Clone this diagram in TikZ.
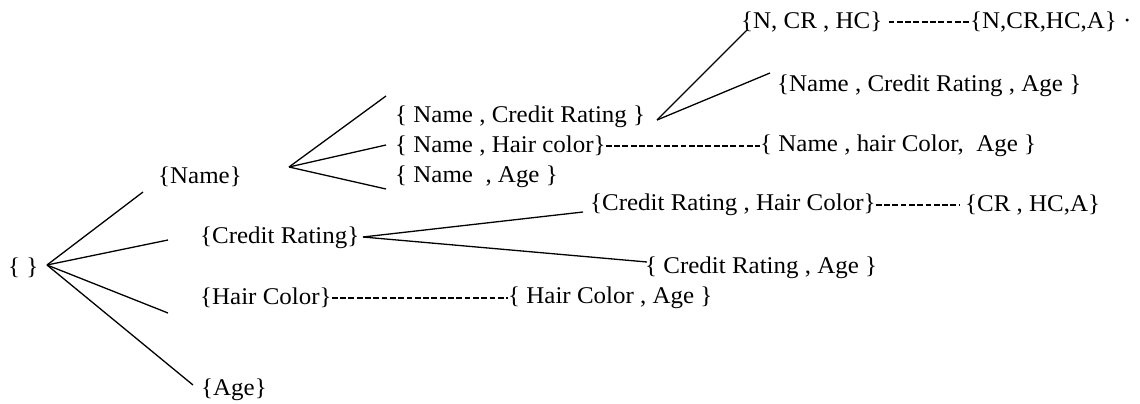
\documentclass[tikz,border=0pt]{standalone}
\usepackage{fontspec}
\setmainfont{Liberation Serif}[FakeStretch=1.04]
\usetikzlibrary{positioning,calc}

\begin{document}
\begin{tikzpicture}[x=1pt,y=-1pt,
    set/.style={inner sep=0pt, anchor=west, font=\fontsize{24}{28}\selectfont},
    edge/.style={line width=1.3pt},
    dashline/.style={line width=1.4pt, dash pattern=on 5.8pt off 2.5pt}
]
    \useasboundingbox (0,0) rectangle (1140,404);

    % level 0 and 1
    \node[set] (empty) at (8,268) {\{ \}};
    \node[set] (n) at (158,177) {\{Name\}};
    \node[set] (cr) at (200,238) {\{Credit Rating\}};
    \node[set] (hc) at (200,298) {\{Hair Color\}};
    \node[set] (a) at (201,390) {\{Age\}};

    % level 2
    \node[set] (ncr) at (395,117) {\{ Name , Credit Rating \}};
    \node[set] (nhc) at (395,146) {\{ Name , Hair color\}};
    \node[set] (na) at (395,177) {\{ Name ~, Age \}};
    \node[set] (crhc) at (590,205) {\{Credit Rating , Hair Color\}};
    \node[set] (cra) at (645,268) {\{ Credit Rating , Age \}};
    \node[set] (hca) at (508,298) {\{ Hair Color , Age \}};

    % level 3 and 4
    \node[set] (ncrhc) at (741,22) {\{N, CR , HC\}};
    \node[set] (all) at (970,22) {\{N,CR,HC,A\}~·};
    \node[set] (ncra) at (777,86) {\{Name , Credit Rating , Age \}};
    \node[set] (nhca) at (760,146) {\{ Name , hair Color, ~Age \}};
    \node[set] (crhca) at (965,205) {\{CR , HC,A\}};

    \coordinate (v0) at (47,265);
    \coordinate (v1) at (289,167);
    \coordinate (v2) at (657,120);
    \coordinate (v3) at (363,237);

    \draw[edge] (v0) -- ([shift={(-15,15)}]n.west);
    \draw[edge] (v0) -- ([shift={(-32,2)}]cr.west);
    \draw[edge] (v0) -- ([shift={(-32,15)}]hc.west);
    \draw[edge] (v0) -- ([shift={(-8,-5)}]a.west);
    \draw[edge] (v1) -- ([shift={(-9,-21)}]ncr.west);
    \draw[edge] (v1) -- ([shift={(-9,-1)}]nhc.west);
    \draw[edge] (v1) -- ([shift={(-9,12)}]na.west);
    \draw[edge] (v2) -- ([shift={(6,8)}]ncrhc.west);
    \draw[edge] (v2) -- ([shift={(-7,-13)}]ncra.west);
    \draw[edge] (v3) -- ([shift={(-7,7)}]crhc.west);
    \draw[edge] (v3) -- ([shift={(2,-6)}]cra.west);

    \draw[dashline] (nhc.east) -- (nhca.west);
    \draw[dashline] (hc.east) -- (hca.west);
    \draw[dashline, shorten >=6pt] (crhc.east) -- (crhca.west);
    \draw[dashline, shorten <=6pt] (ncrhc.east) -- (all.west);
\end{tikzpicture}
\end{document}
